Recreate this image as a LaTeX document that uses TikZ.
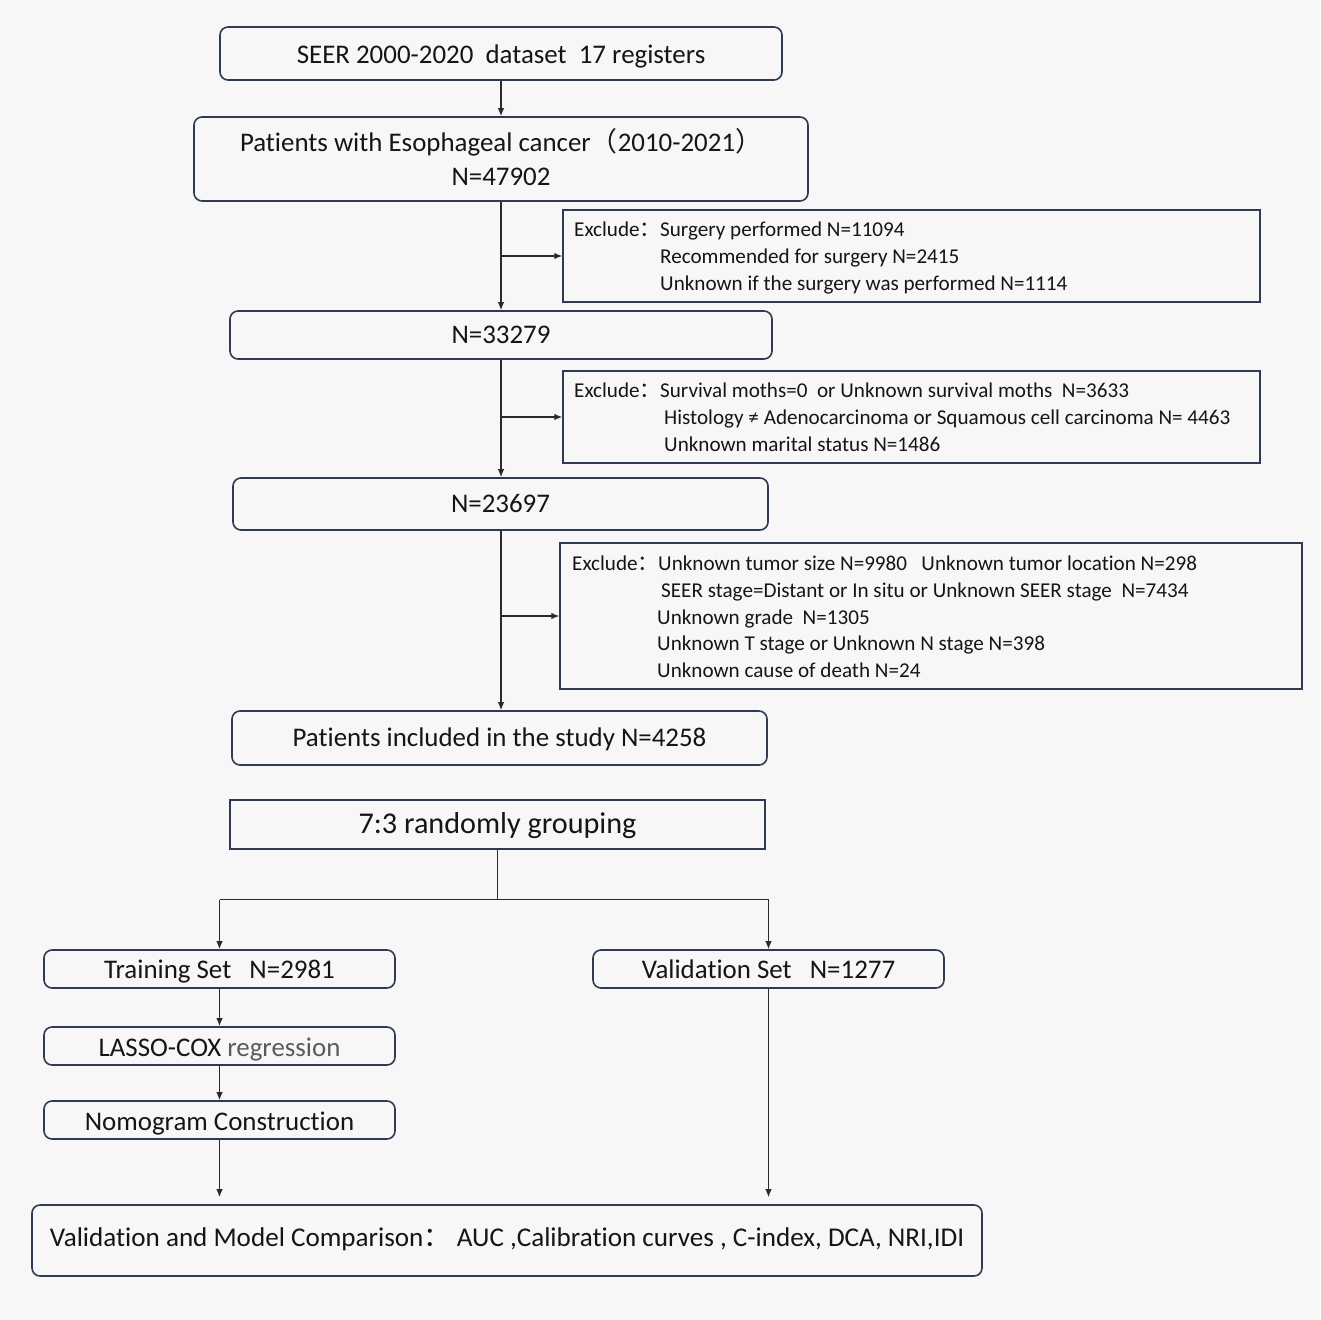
\documentclass[tikz,border=0pt]{standalone}
\usepackage{fontspec}
\setmainfont{Carlito}[Ligatures=NoCommon]
\newfontfamily\cjk{Noto Sans CJK SC}
\usetikzlibrary{arrows.meta,calc}
\definecolor{bgc}{HTML}{F7F7F7}
\definecolor{bd}{HTML}{2F3B52}
\definecolor{lnc}{HTML}{2A2A2A}
\definecolor{txt}{HTML}{151515}
\definecolor{gtx}{HTML}{5A5A5A}
\newcommand{\fc}{{\cjk ：}}
\begin{document}
\begin{tikzpicture}[x=1bp,y=-1bp,
  rbox/.style={draw=bd,line width=1.6bp,rounded corners=8bp,inner sep=0pt,text=txt},
  sbox/.style={draw=bd,line width=1.4bp,inner sep=0pt,text=txt},
  arr/.style={draw=lnc,line width=1.3bp,-{Latex[length=8bp,width=6.5bp]}},
  lnk/.style={draw=lnc,line width=1.3bp},
  big/.style={font=\fontsize{27}{34}\selectfont,text height=17.4bp,text depth=0bp},
  mid/.style={font=\fontsize{27}{30}\selectfont,text height=17.4bp,text depth=0bp},
  sml/.style={font=\fontsize{21.2}{24}\selectfont,anchor=base west,inner sep=0pt,text=txt}
]
\fill[bgc] (0,0) rectangle (1320,1320);
\useasboundingbox (0,0) rectangle (1320,1320);

% main chain
\node[rbox,big,minimum width=562bp,minimum height=53bp,text height=19.4bp] (b1) at (501,53.5) {SEER 2000-2020\ \ dataset\ \ 17 registers};
\node[rbox,font=\fontsize{27}{34}\selectfont,align=center,text depth=4bp,minimum width=614bp,minimum height=84bp] (b2) at (501,159) {Patients with Esophageal cancer{\cjk （}2010-2021{\cjk ）}\\N=47902};
\node[rbox,big,minimum width=542bp,minimum height=48bp] (b3) at (501,335) {N=33279};
\node[rbox,big,minimum width=535bp,minimum height=52bp] (b4) at (500.5,504) {N=23697};
\node[rbox,big,minimum width=535bp,minimum height=54bp] (b5) at (499.5,738) {Patients included in the study N=4258};

% exclusion boxes
\node[sbox,minimum width=697bp,minimum height=92bp] (e1) at (911.5,256) {};
\node[sml] (e1a) at (574,236.5) {Exclude\fc};
\node[sml] (e1b) at (660,236.5) {Surgery performed N=11094};
\node[sml] (e1c) at (660,263.5) {Recommended for surgery N=2415};
\node[sml] (e1d) at (660,290.5) {Unknown if the surgery was performed N=1114};

\node[sbox,minimum width=697bp,minimum height=92bp] (e2) at (911.5,417) {};
\node[sml] (e2a) at (574,397.5) {Exclude\fc};
\node[sml] (e2b) at (660,397.5) {Survival moths=0\ \ or Unknown survival moths\ \ N=3633};
\node[sml] (e2c) at (664,424.5) {Histology ≠ Adenocarcinoma or Squamous cell carcinoma N= 4463};
\node[sml] (e2d) at (664,451.5) {Unknown marital status N=1486};

\node[sbox,minimum width=742bp,minimum height=146bp] (e3) at (931,616) {};
\node[sml] (e3a) at (572,570.5) {Exclude\fc};
\node[sml] (e3b) at (658,570.5) {Unknown tumor size N=9980\ \ \ Unknown tumor location N=298};
\node[sml] (e3c) at (661,597.5) {SEER stage=Distant or In situ or Unknown SEER stage\ \ N=7434};
\node[sml] (e3d) at (657,624.5) {Unknown grade\ \ N=1305};
\node[sml] (e3e) at (657,650.5) {Unknown T stage or Unknown N stage N=398};
\node[sml] (e3f) at (657,677.5) {Unknown cause of death N=24};

% connectors main chain
\draw[arr] (b1.south) -- (b2.north);
\draw[arr] (b2.south) -- (b3.north -| b2.south);
\draw[arr] (b3.south) -- (b4.north -| b3.south);
\draw[arr] (b4.south -| b3.south) -- (b5.north -| b3.south);
\draw[arr] (b2.south |- e1.west) -- (e1.west);
\draw[arr] (b3.south |- e2.west) -- (e2.west);
\draw[arr] (b3.south |- e3.west) -- (e3.west);

% grouping
\node[sbox,font=\fontsize{30.3}{34}\selectfont,text height=17.6bp,text depth=0bp,minimum width=535bp,minimum height=49bp] (g) at (497.5,824.5) {7:3 randomly grouping};
\node[rbox,mid,text height=18.6bp,minimum width=351bp,minimum height=38bp] (t) at (219.5,969) {Training Set\ \ \ N=2981};
\node[rbox,mid,text height=18.6bp,minimum width=351bp,minimum height=38bp] (v) at (768.5,969) {Validation Set\ \ \ N=1277};
\node[rbox,mid,text height=20bp,minimum width=351bp,minimum height=38bp] (l) at (219.5,1046) {LASSO-COX {\color{gtx}regression}};
\node[rbox,mid,text height=20bp,minimum width=351bp,minimum height=38bp] (n) at (219.5,1120) {Nomogram Construction};
\node[rbox,font=\fontsize{27.2}{30}\selectfont,text height=12bp,text depth=0bp,minimum width=950bp,minimum height=71bp] (f) at (507,1240.5) {Validation and Model Comparison\fc\ AUC ,Calibration curves , C-index, DCA, NRI,IDI};

\coordinate (gj) at ($(g.south)+(0,50)$);
\draw[lnk] (g.south) -- (gj);
\draw[lnk] (gj -| t.north) -- (gj -| v.north);
\draw[arr] (gj -| t.north) -- (t.north);
\draw[arr] (gj -| v.north) -- (v.north);
\draw[arr] (t.south) -- (l.north);
\draw[arr] (l.south) -- (n.north);
\draw[arr,shorten >=7bp] (n.south) -- (f.north -| n.south);
\draw[arr,shorten >=7bp] (v.south) -- (f.north -| v.south);
\end{tikzpicture}
\end{document}
